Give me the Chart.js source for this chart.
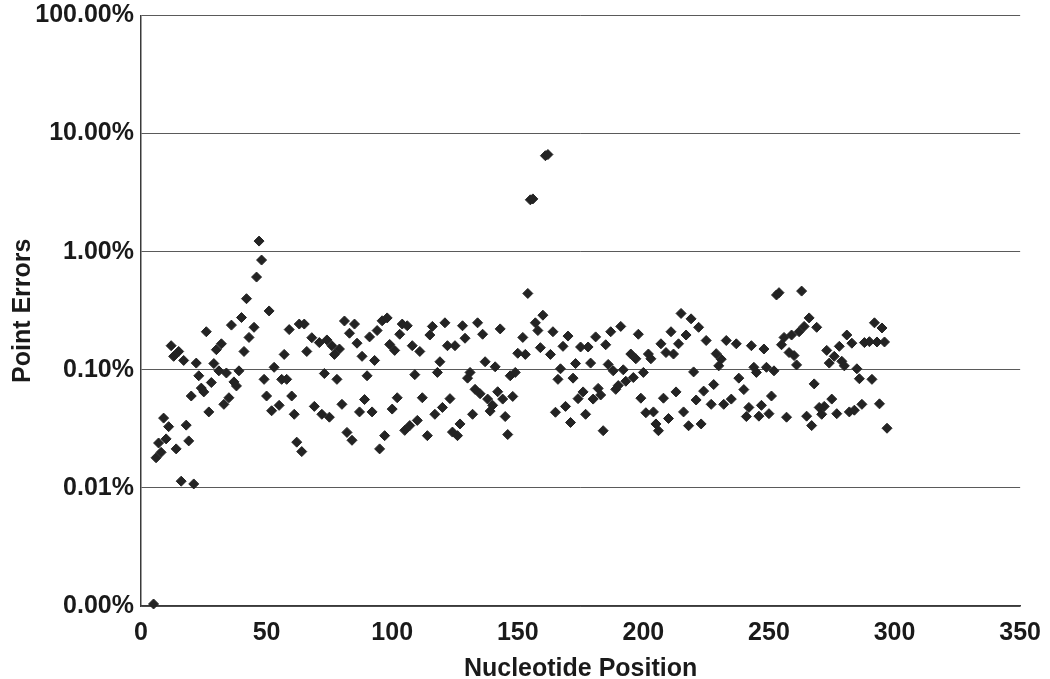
<!DOCTYPE html>
<html>
<head>
<meta charset="utf-8">
<script src="https://cdn.jsdelivr.net/npm/chart.js@4.4.1/dist/chart.umd.min.js"></script>
<style>
html,body{margin:0;padding:0;background:#fff;}
#wrap{width:1050px;height:679px;}
</style>
</head>
<body>
<div id="wrap"><canvas id="c" width="1050" height="679"></canvas></div>
<script>
// Nucleotide positions (x) and point error rates in percent (y)
const positions = [
  5,6,7,8,9,10,11,12,13,14,15,16,17,18,19,20,21,22,23,24,25,26,27,28,29,30,31,32,33,34,35,36,37,38,39,40,41,42,43,45,46,47,48,49,50,51,52,
  53,55,56,57,58,59,60,61,62,63,64,65,66,68,69,71,72,73,74,75,76,77,78,79,80,81,82,83,84,85,86,87,88,89,90,91,92,93,94,95,96,97,98,99,100,
  101,102,103,104,105,106,107,108,109,110,111,112,114,115,116,117,118,119,120,121,122,123,124,125,126,127,128,129,130,131,132,133,134,135,136,137,138,139,140,141,142,143,144,145,146,147,148,149,150,
  152,153,154,155,156,157,158,159,160,161,162,163,164,165,166,167,168,169,170,171,172,173,174,175,176,177,178,179,180,181,182,183,184,185,186,187,188,189,190,191,192,193,195,196,197,198,199,200,
  201,202,203,204,205,206,207,208,209,210,211,212,213,214,215,216,217,218,219,220,221,222,223,224,225,227,228,229,230,231,232,233,235,237,238,240,241,242,243,244,245,246,247,248,249,250,
  251,252,253,254,255,256,257,258,259,260,261,262,263,264,265,266,267,268,269,270,271,272,273,274,275,276,277,278,279,280,281,282,283,284,285,286,287,288,290,291,292,293,294,295,296,297
];
const errorPct = [
  0.00104,0.018,0.024,0.020,0.039,0.026,0.033,0.16,0.13,0.0214,0.143,0.0114,0.12,0.034,0.025,0.06,0.0108,0.114,0.089,0.070,0.065,0.21,0.044,0.078,0.113,0.148,0.098,0.166,0.051,0.094,0.058,0.239,0.079,0.073,0.098,0.277,0.143,0.40,0.188,0.229,0.61,1.23,0.85,0.083,0.06,0.315,0.045,
  0.105,0.05,0.083,0.135,0.083,0.219,0.06,0.042,0.0244,0.244,0.0203,0.244,0.143,0.187,0.049,0.170,0.042,0.093,0.179,0.0397,0.16,0.135,0.083,0.15,0.051,0.259,0.0295,0.204,0.0253,0.244,0.168,0.044,0.13,0.056,0.089,0.19,0.044,0.12,0.215,0.0214,0.26,0.0277,0.275,0.164,0.0465,
  0.146,0.058,0.2,0.244,0.0307,0.236,0.0337,0.16,0.091,0.0373,0.143,0.058,0.0277,0.197,0.233,0.042,0.095,0.117,0.048,0.25,0.16,0.057,0.0297,0.16,0.0277,0.0348,0.236,0.185,0.085,0.095,0.042,0.0683,0.25,0.0627,0.2,0.117,0.0565,0.0447,0.05,0.106,0.0652,0.222,0.0565,0.0402,0.0283,0.089,0.0595,0.095,0.138,
  0.188,0.135,0.443,2.75,2.8,0.25,0.215,0.154,0.29,6.5,6.65,0.135,0.21,0.0437,0.083,0.102,0.158,0.049,0.193,0.0358,0.085,0.113,0.057,0.156,0.065,0.042,0.156,0.114,0.0565,0.19,0.0696,0.0612,0.0305,0.163,0.111,0.21,0.098,0.0683,0.0735,0.233,0.1,0.08,0.136,0.086,0.124,0.2,0.0575,0.095,
  0.0433,0.136,0.124,0.044,0.0348,0.0305,0.166,0.0575,0.14,0.0387,0.21,0.136,0.065,0.166,0.30,0.044,0.197,0.0336,0.27,0.096,0.0555,0.229,0.0348,0.066,0.177,0.051,0.075,0.137,0.108,0.123,0.051,0.177,0.0565,0.166,0.085,0.068,0.0402,0.048,0.16,0.105,0.095,0.0405,0.05,0.15,0.105,0.0425,
  0.06,0.098,0.43,0.45,0.163,0.188,0.0397,0.14,0.197,0.132,0.11,0.21,0.464,0.233,0.0405,0.275,0.0337,0.076,0.229,0.048,0.042,0.049,0.146,0.114,0.0565,0.13,0.0425,0.158,0.118,0.108,0.197,0.044,0.168,0.0455,0.102,0.084,0.051,0.17,0.173,0.083,0.25,0.172,0.0515,0.226,0.172,0.032
];
const yTickValues = [0.001, 0.01, 0.1, 1, 10, 100];
const yTickLabels = ['0.00%', '0.01%', '0.10%', '1.00%', '10.00%', '100.00%'];
const xTickValues = [0, 50, 100, 150, 200, 250, 300, 350];

const FONT = "'Liberation Sans', Arial, sans-serif";
const ctx = document.getElementById('c').getContext('2d');
new Chart(ctx, {
  type: 'scatter',
  data: {
    datasets: [{
      data: positions.map((x, i) => ({x: x, y: errorPct[i]})),
      pointStyle: 'rectRot',
      pointRadius: 5,
      pointBorderWidth: 1,
      backgroundColor: '#232323',
      borderColor: '#232323',
      clip: false
    }]
  },
  options: {
    responsive: false,
    animation: false,
    layout: {padding: {left: 0, right: 27, top: 0, bottom: 0}},
    plugins: {legend: {display: false}, tooltip: {enabled: false}},
    scales: {
      x: {
        type: 'linear',
        min: 0, max: 350,
        afterBuildTicks: s => { s.ticks = xTickValues.map(v => ({value: v})); },
        afterFit: s => { s.height = 73; },
        grid: {display: false, drawTicks: false},
        border: {display: true, color: '#3a3a3a', width: 1.5},
        ticks: {padding: 9, color: '#1a1a1a', maxRotation: 0, autoSkip: false,
                font: {family: FONT, size: 25, weight: 'bold', lineHeight: 1.45}},
        title: {display: true, text: 'Nucleotide Position', color: '#1a1a1a',
                padding: {top: 0, bottom: 0},
                font: {family: FONT, size: 25, weight: 'bold', lineHeight: 0.8}}
      },
      y: {
        type: 'logarithmic',
        min: 0.001, max: 100,
        afterBuildTicks: s => { s.ticks = yTickValues.map(v => ({value: v, major: true})); },
        afterFit: s => { s.width = 141; },
        grid: {color: '#5a5a5a', lineWidth: 1, drawTicks: false},
        border: {display: true, color: '#3a3a3a', width: 1.5},
        ticks: {padding: 7, color: '#1a1a1a', autoSkip: false,
                callback: (v, i) => yTickLabels[i],
                font: {family: FONT, size: 25, weight: 'bold', lineHeight: 0.68}},
        title: {display: true, text: 'Point Errors', color: '#1a1a1a',
                padding: {top: 8, bottom: 0},
                font: {family: FONT, size: 25, weight: 'bold'}}
      }
    }
  }
});
</script>
</body>
</html>
